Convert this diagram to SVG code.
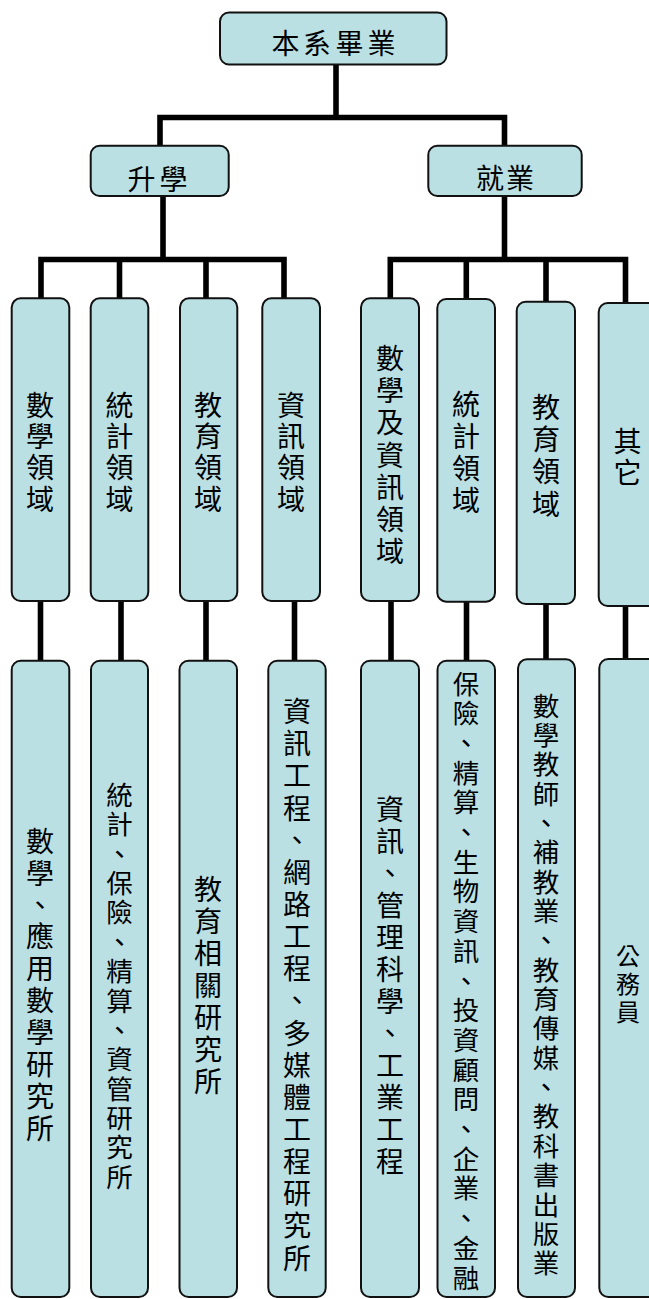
<svg xmlns="http://www.w3.org/2000/svg" width="649" height="1299" viewBox="0 0 649 1299">
<style>
.box{fill:#BBE0E3;stroke:#111;stroke-width:2}
.conn{fill:none;stroke:#000;stroke-width:5.6;stroke-linejoin:miter;stroke-linecap:butt}
text{font-family:"Noto Sans CJK TC","Noto Sans CJK SC",sans-serif;fill:#000;text-anchor:middle;dominant-baseline:central;font-size:28px}
.s27{font-size:26.5px}
.s24{font-size:24px}
</style>
<rect width="649" height="1299" fill="#fff"/>
<g id="connectors">
<path class="conn" d="M336,64 V117.5"/>
<path class="conn" d="M160,146 V117.5 H504.5 V146"/>
<path class="conn" d="M163,196 V259.5"/>
<path class="conn" d="M41,299 V259.5 H284 V299"/>
<path class="conn" d="M119.5,259.5 V299"/>
<path class="conn" d="M206,259.5 V299"/>
<path class="conn" d="M504.5,196 V259.5"/>
<path class="conn" d="M390.3,299 V259.5 H625.5 V303"/>
<path class="conn" d="M466.3,259.5 V299"/>
<path class="conn" d="M546,259.5 V302"/>
<path class="conn" d="M40.5,601 V661"/>
<path class="conn" d="M121,601 V661"/>
<path class="conn" d="M206,601 V661"/>
<path class="conn" d="M294.5,601 V661"/>
<path class="conn" d="M391,601 V661"/>
<path class="conn" d="M466.5,601 V661"/>
<path class="conn" d="M546,604 V660"/>
<path class="conn" d="M625.5,606 V660"/>
</g>
<g id="root">
<rect class="box" x="220" y="12.5" width="226.5" height="52" rx="9"/>
<text x="285.5 317 349.5 381.5" y="41.5">本系畢業</text>
</g>
<g id="n-shengxue">
<rect class="box" x="90.7" y="145.7" width="138" height="50.3" rx="9"/>
<text x="141.5 173.5" y="177.5">升學</text>
</g>
<g id="n-jiuye">
<rect class="box" x="428.3" y="145.7" width="153.4" height="50.3" rx="9"/>
<text x="490 520" y="176.5">就業</text>
</g>
<g id="b1">
<rect class="box" x="11.7" y="298.3" width="57.6" height="302.7" rx="9"/>
<text x="40 40 40 40" y="404 435.2 466.4 497.6">數學領域</text>
</g>
<g id="b2">
<rect class="box" x="90.7" y="298.3" width="57.6" height="302.7" rx="9"/>
<text x="119.5 119.5 119.5 119.5" y="404 435.2 466.4 497.6">統計領域</text>
</g>
<g id="b3">
<rect class="box" x="180" y="298.3" width="57.3" height="302.7" rx="9"/>
<text x="208 208 208 208" y="404 435.2 466.4 497.6">教育領域</text>
</g>
<g id="b4">
<rect class="box" x="262.3" y="298.3" width="57.7" height="302.7" rx="9"/>
<text x="291 291 291 291" y="404 435.2 466.4 497.6">資訊領域</text>
</g>
<g id="b5">
<rect class="box" x="361" y="298.3" width="58" height="302.7" rx="9"/>
<text x="390 390 390 390 390 390 390" y="357 389.2 421.3 453.5 485.7 517.9 550">數學及資訊領域</text>
</g>
<g id="b6">
<rect class="box" x="437.3" y="299" width="57.7" height="302.7" rx="9"/>
<text x="466 466 466 466" y="403 435 467 499">統計領域</text>
</g>
<g id="b7">
<rect class="box" x="516.7" y="301.7" width="58.3" height="302.3" rx="9"/>
<text x="546 546 546 546" y="406 438.2 470.4 502.6">教育領域</text>
</g>
<g id="b8">
<rect class="box" x="598.7" y="303" width="58" height="303" rx="9"/>
<text x="627.5 627.5" y="440 471">其它</text>
</g>
<g id="c1">
<rect class="box" x="11.7" y="660.7" width="57.6" height="636.3" rx="9"/>
<text x="40 40 40 40 40 40 40 40 40 40" y="839.7 871.6 903.5 935.4 967.3 999.2 1031.1 1063 1094.9 1126.8">數學、應用數學研究所</text>
</g>
<g id="c2">
<rect class="box" x="91" y="660.7" width="57" height="636.3" rx="9"/>
<text class="s27" x="119.5 119.5 119.5 119.5 119.5 119.5 119.5 119.5 119.5 119.5 119.5 119.5 119.5 119.5" y="793.5 822.9 852.2 881.6 910.9 940.3 969.6 999 1028.3 1057.7 1087 1116.4 1145.7 1175.1">統計、保險、精算、資管研究所</text>
</g>
<g id="c3">
<rect class="box" x="179.5" y="660.7" width="57.5" height="636.3" rx="9"/>
<text x="208 208 208 208 208 208 208" y="887.5 919.5 951.5 983.5 1015.5 1047.5 1079.5">教育相關研究所</text>
</g>
<g id="c4">
<rect class="box" x="268.3" y="660.7" width="57.4" height="636.3" rx="9"/>
<text x="297 297 297 297 297 297 297 297 297 297 297 297 297 297 297 297 297 297" y="710 742.2 774.3 806.5 838.6 870.8 902.9 935.1 967.2 999.4 1031.5 1063.7 1095.8 1128 1160.1 1192.3 1224.4 1256.6">資訊工程、網路工程、多媒體工程研究所</text>
</g>
<g id="c5">
<rect class="box" x="361" y="660.7" width="58" height="636.3" rx="9"/>
<text x="390 390 390 390 390 390 390 390 390 390 390 390" y="807.5 839.5 871.5 903.5 935.5 967.5 999.5 1031.5 1063.5 1095.5 1127.5 1159.5">資訊、管理科學、工業工程</text>
</g>
<g id="c6">
<rect class="box" x="437.5" y="660.7" width="57.5" height="636.3" rx="9"/>
<text class="s27" x="466 466 466 466 466 466 466 466 466 466 466 466 466 466 466 466 466 466 466 466 466" y="682 711.7 741.4 771.1 800.8 830.5 860.2 889.9 919.6 949.3 979 1008.7 1038.4 1068.1 1097.8 1127.5 1157.2 1186.9 1216.6 1246.3 1276">保險、精算、生物資訊、投資顧問、企業、金融</text>
</g>
<g id="c7">
<rect class="box" x="518" y="659.3" width="57" height="637.7" rx="9"/>
<text class="s27" x="546 546 546 546 546 546 546 546 546 546 546 546 546 546 546 546 546 546 546 546" y="704 733.4 762.7 792.1 821.4 850.8 880.1 909.5 938.8 968.2 997.5 1026.9 1056.2 1085.6 1114.9 1144.3 1173.6 1203 1232.3 1261.7">數學教師、補教業、教育傳媒、教科書出版業</text>
</g>
<g id="c8">
<rect class="box" x="599.3" y="659" width="58" height="638" rx="9"/>
<text class="s24" x="628 628 628" y="954 982 1010">公務員</text>
</g>
</svg>
